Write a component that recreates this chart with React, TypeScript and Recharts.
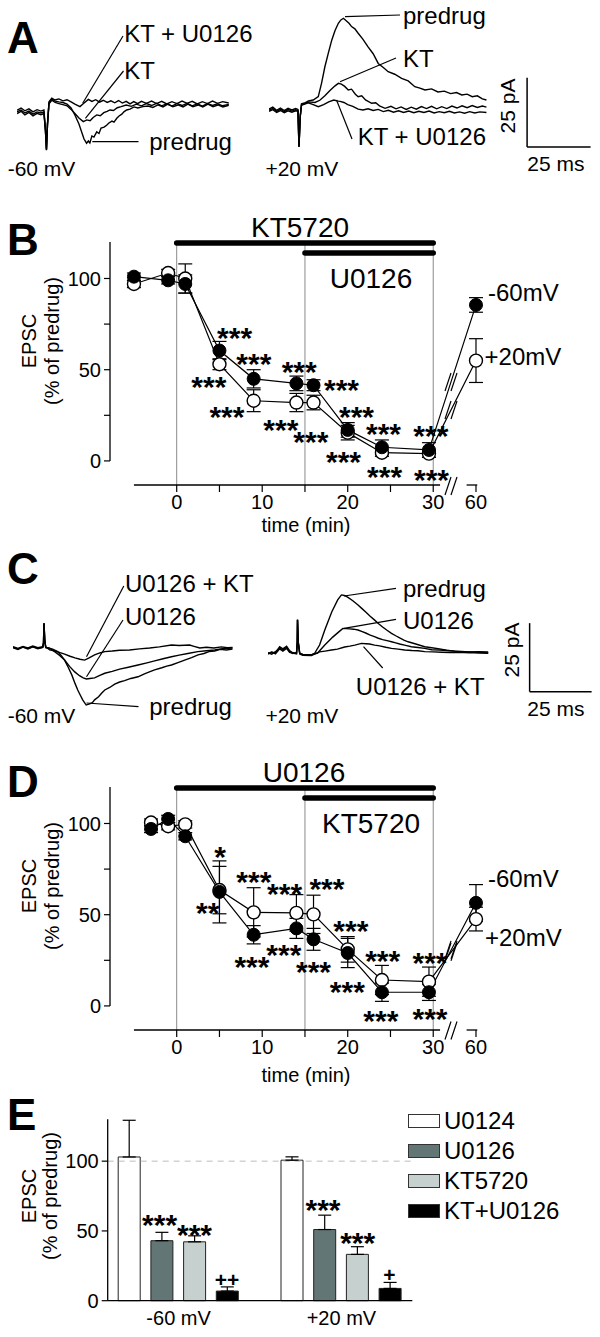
import React from 'react';
import {
  LineChart, Line, XAxis, YAxis, ReferenceLine, ErrorBar, BarChart, Bar, Legend,
} from 'recharts';

const FONT = '"Liberation Sans", Arial, Helvetica, sans-serif';

// ---------------- Panel A traces: [time (ms), current (pA)] ----------------
const aNeg60Predrug: [number, number][] = [[0,-1.4],[1.6,-0.7],[3.1,-1.8],[4.7,-1.1],[6.3,-2.2],[7.9,-1.4],[9.4,-1.8],[10.6,-1.4],[11.2,-8],[11.6,-15.2],[12.0,-6],[12.6,1.8],[13.7,3.2],[15,2.5],[16.5,2.2],[18.1,2.0],[19.7,1.4],[21.3,0],[22.8,-2.5],[24.4,-5.8],[25.6,-9],[26.4,-11.2],[27.4,-12.7],[28.1,-11.9],[28.7,-12.6],[29.5,-10.1],[30.3,-10.5],[31.4,-8.6],[32.3,-9.2],[33.1,-7.2],[34.3,-6.9],[35.3,-6.2],[36.2,-5.4],[37.4,-4.7],[38.2,-5.1],[39.3,-3.7],[40.2,-2.9],[41.3,-2.2],[42.1,-1.4],[43.2,-0.7],[44.5,-0.4],[46.1,0.4],[47.6,0],[49.6,0.5],[51.6,0.7],[53.5,0.2],[55.5,1.1],[57.5,0.4],[59.4,1.4],[61.4,0.5],[63.4,1.1],[65.4,0.4],[67.3,1.4],[69.3,0.5],[71.3,1.1],[73.2,0.4],[75.2,1.4],[77.2,0.5],[79.1,1.1],[81.1,0.4],[83.4,1.0]];
const aNeg60KT: [number, number][] = [[0,-2.0],[1.6,-1.2],[3.1,-2.5],[4.7,-1.6],[6.3,-2.8],[7.9,-1.9],[9.4,-2.4],[10.6,-2.0],[11.2,-8],[11.6,-15],[12.0,-6],[12.6,1.5],[13.7,2.8],[15,2.0],[16.5,1.6],[18.1,1.2],[19.7,0.8],[21.3,-0.5],[22.8,-2.0],[24.4,-3.6],[26.1,-4.9],[27.5,-4.3],[28.8,-4.6],[30,-3.4],[31.4,-2.5],[32.8,-2.8],[34.2,-1.7],[35.5,-1.2],[36.6,-0.7],[38,-0.9],[39.5,0.1],[41,0.5],[43,1.1],[45,0.6],[47,1.4],[49,0.8],[51,1.6],[53,0.9],[55,1.7],[57,0.8],[59,1.5],[61,0.7],[63,1.6],[65,0.9],[67,1.7],[69,0.8],[71,1.5],[73,0.7],[75,1.6],[77,0.9],[79,1.5],[81,0.8],[83.4,1.3]];
const aNeg60KTU: [number, number][] = [[0,-0.8],[1.6,0],[3.1,-1.0],[4.7,-0.3],[6.3,-1.4],[7.9,-0.6],[9.4,-1.1],[10.6,-0.7],[11.2,-8],[11.6,-15],[12.0,-6],[12.6,2.3],[13.7,3.6],[15,2.9],[16.5,3.3],[18.1,2.6],[19.7,3.0],[21.3,2.2],[22.8,1.4],[24.8,0.5],[26.2,1.6],[28.1,3.1],[29.5,2.4],[31,3.0],[32.5,2.1],[34,2.8],[35.5,2.0],[37,2.6],[38.5,1.9],[40,2.7],[41.5,1.8],[43,2.4],[44.5,1.5],[46,2.3],[47.5,1.6],[49,2.4],[51,1.7],[53,2.5],[55,1.6],[57,2.4],[59,1.5],[61,2.3],[63,1.6],[65,2.5],[67,1.7],[69,2.4],[71,1.5],[73,2.3],[75,1.6],[77,2.5],[79,1.7],[81,2.3],[83.4,1.8]];

const aPos20Predrug: [number, number][] = [[0,-0.8],[1.5,-0.2],[3,-1.2],[4.5,-0.4],[6,-1.3],[7.5,-0.5],[9,-1.1],[10.5,-0.6],[11.4,-0.9],[11.8,-14],[12.3,-3],[12.8,1.5],[14,1.8],[15.5,2.6],[17.4,2.9],[19.4,4.1],[20.7,9],[22,14.9],[23.4,20],[24.7,24.5],[26,28],[27.3,30.6],[28.3,31.8],[29.3,32.4],[30.5,31.4],[31.5,30.6],[32.5,29.4],[33.8,28.6],[35.1,27.0],[37,24.8],[39,22.1],[41,19.6],[43,16.1],[45,14.6],[46.9,13.1],[49.5,12.2],[52.2,10.7],[54.8,9.8],[57.4,7.7],[59.4,7.2],[61.4,6.5],[64,6.9],[66.5,5.8],[69,6.1],[71.5,5.2],[73.8,5.6],[75.9,4.7],[78,5.0],[80,4.1],[82,4.4],[84,3.3],[85.6,2.9]];
const aPos20KT: [number, number][] = [[0,-1.2],[1.5,-0.6],[3,-1.6],[4.5,-0.9],[6,-1.7],[7.5,-1.0],[9,-1.5],[10.5,-1.0],[11.4,-1.2],[11.8,-14],[12.3,-3],[12.8,1.2],[14,1.5],[15.5,2.2],[18.1,2.0],[20,2.8],[22,4.4],[24,6.3],[26,8.0],[27.3,8.9],[28.5,8.6],[29.8,7.8],[31.2,6.5],[32.5,6.8],[34,5.0],[35.1,4.1],[36.5,4.4],[38,2.9],[40.4,1.7],[42,1.9],[43.5,0.8],[45.7,-0.1],[48,0.6],[50,-0.3],[52,0.4],[54,-0.5],[56,0.3],[58,-0.4],[60,0.5],[62,-0.2],[64,0.6],[66,-0.3],[68,0.5],[70,-0.2],[72,0.7],[74,0],[76,0.8],[78,0.1],[80,0.9],[82,0.2],[84,0.7],[85.6,0.3]];
const aPos20KTU: [number, number][] = [[0,-0.4],[1.5,0.3],[3,-0.8],[4.5,0],[6,-0.9],[7.5,-0.1],[9,-0.7],[10.5,-0.2],[11.4,-0.5],[11.8,-14],[12.3,-3],[12.8,1.0],[14,1.4],[15.5,1.9],[17.4,1.2],[19.4,0.5],[21.5,1.2],[23.5,2.2],[25.5,2.9],[27.3,2.5],[28,2.4],[29.5,2.0],[31,1.2],[33,0.6],[35.1,-0.4],[37,-0.7],[39,-0.3],[41,-0.9],[43,-0.5],[45,-1.3],[47,-0.8],[49,-1.5],[51,-1.0],[53,-1.6],[55,-1.1],[57,-1.7],[59,-1.2],[61,-1.6],[63,-1.1],[65,-1.8],[67,-1.3],[69,-1.7],[71,-1.2],[73,-1.8],[75,-1.4],[77,-1.9],[79,-1.3],[81,-1.8],[83,-1.4],[85.6,-1.6]];

// ---------------- Panel C traces ----------------
const cNeg60Predrug: [number, number][] = [[0,0.2],[2,-0.4],[4,0.4],[6,-0.3],[8,0.5],[10,-0.2],[12,0.3],[12.3,2],[12.5,9.1],[12.8,3],[13.2,0.2],[14.5,0],[16,-0.3],[18,-1.2],[19.5,-2.7],[20.8,-4.3],[22.3,-7],[23.7,-9.7],[25,-12.8],[26.1,-15.2],[27.2,-17.2],[28.1,-18.8],[29.5,-20.7],[30.9,-20.3],[32,-19.8],[32.9,-18.8],[34.5,-17.7],[35.8,-16.3],[37,-15.2],[39,-14.3],[41,-13.1],[43,-12.3],[45,-11.8],[47.5,-11.0],[50.4,-10.4],[53,-9.3],[55,-8.6],[57.1,-7.9],[60,-7.1],[62,-6.5],[63.9,-6.1],[66.5,-5.2],[69.2,-4.3],[72,-3.4],[74.6,-2.4],[77,-1.9],[79,-1.2],[81.3,-1.0],[83.5,-0.4],[86,-0.6],[88.5,-0.3]];
const cNeg60U0126: [number, number][] = [[0,0.4],[2,-0.2],[4,0.5],[6,-0.1],[8,0.6],[10,0],[12,0.4],[12.3,2],[12.5,9.1],[12.8,3],[13.2,0.3],[14.5,0.1],[15.5,-0.4],[16.8,-1.2],[18.8,-2.6],[20.8,-4.3],[22.8,-6.6],[24.9,-8.6],[26.8,-10.0],[28.3,-10.8],[29.6,-11.2],[31,-11.0],[32.9,-10.8],[35,-9.9],[37,-9.1],[40,-8.4],[43,-7.6],[46.5,-6.9],[50.4,-6.1],[54,-5.3],[57.1,-4.6],[60.5,-3.8],[63.9,-3.1],[67,-2.5],[70.5,-1.9],[74.5,-1.2],[78,-0.9],[81.3,-0.6],[85,-0.1],[88.5,0.1]];
const cNeg60U0126KT: [number, number][] = [[0,0.6],[2,0],[4,0.7],[6,0.1],[8,0.8],[10,0.2],[12,0.6],[12.3,2],[12.5,9.1],[12.8,3],[13.2,0.5],[14.8,-0.6],[17,-1.0],[19,-1.6],[20.8,-2.1],[23,-2.9],[25,-3.5],[27,-4.0],[28.9,-4.3],[30.5,-3.6],[32.9,-2.4],[35,-1.7],[37,-1.2],[40,-1.0],[43,-0.7],[47,-0.6],[51,-0.2],[55.1,0.1],[59,0.5],[63.9,1.2],[67,1.0],[71.2,1.2],[73,0.7],[75.3,0.1],[78,0.4],[81,0.1],[84,0.5],[86.5,0.2],[88.5,0.3]];

const cPos20Predrug: [number, number][] = [[0,-0.3],[1.5,0.4],[3,0.1],[4.7,2.4],[6,1.6],[7.5,2.6],[8.7,1.0],[10,0.2],[11.5,0],[11.8,4],[11.9,12.2],[12.2,4],[12.8,0],[14,-0.4],[17.5,-0.6],[18.8,0],[20.8,3.0],[22.9,8.5],[25.7,15.1],[28.1,19.5],[29.6,21.3],[30.8,21.1],[32.1,20.5],[34.2,19.2],[36.3,17.6],[37.8,16.4],[39.4,15.1],[41.2,13.5],[42.9,12.2],[44.6,10.8],[46.2,9.6],[48,8.4],[49.8,7.3],[51.5,6.4],[53.1,5.6],[54.8,4.8],[56.5,4.2],[59.6,3.4],[63.2,2.4],[66,2.0],[69.2,1.6],[72,1.1],[75.3,0.8],[78,0.6],[81.3,0.5],[85,0.2],[88.8,0]];
const cPos20U0126: [number, number][] = [[0,0.2],[1.5,-0.3],[3,0.6],[4.7,2.0],[6,1.2],[7.5,2.2],[8.7,0.6],[10,-0.1],[11.5,0.2],[11.8,4],[11.9,12.2],[12.2,4],[12.8,0],[14,-0.4],[17.5,-0.5],[20,0.1],[22.9,3.0],[26.1,5.9],[28.9,8.1],[30.2,9.1],[31.5,9.0],[32.9,8.9],[34.5,8.8],[36.3,8.5],[38,7.9],[39.4,7.4],[41,6.7],[42.9,6.1],[44.5,5.5],[46.2,5.0],[48,4.6],[49.8,4.2],[51.5,3.8],[53.1,3.4],[55.5,2.9],[57.8,2.4],[60.5,2.1],[63.2,1.8],[66,1.3],[69.2,1.2],[72,1.0],[75.3,0.8],[78,0.7],[81,0.5],[85,0.6],[88.8,0.5]];
const cPos20U0126KT: [number, number][] = [[0,-0.1],[1.5,0.5],[3,-0.2],[4.7,1.6],[6,0.8],[7.5,1.8],[8.7,0.3],[10,0.1],[11.5,-0.2],[11.8,4],[11.9,12.2],[12.2,4],[12.8,-0.3],[14,-0.7],[17.5,-0.8],[20.8,0.5],[23,0.8],[25.6,1.2],[28,1.5],[30.9,2.3],[33,2.6],[35,3.0],[37.7,3.6],[39.5,3.5],[41,3.4],[43,3.0],[45,2.7],[47.5,2.2],[49.8,1.8],[52.5,1.5],[55.1,1.2],[58,1.0],[60.5,0.9],[63.2,0.6],[66.5,0.5],[70,0.4],[73.3,0.3],[77,0.4],[81,0.2],[85,0.3],[88.8,0.1]];

// ---------------- Panel B time course ----------------
const timesB = [-5, -1, 1, 5, 9, 14, 16, 20, 24, 29.5, 60];
const bNeg60 = [101, 99, 97, 60.5, 45, 42.5, 41.5, 17, 7.5, 6, 85.5];
const bNeg60Err = [2, 2, 5, 5, 5, 4, 3, 4, 4, 4, 4];
const bPos20 = [97, 103, 100, 53, 33, 32, 32, 15.5, 4.5, 4, 55];
const bPos20Err = [2, 2, 8, 3, 6, 5, 4, 4, 2, 2, 12];

// ---------------- Panel D time course ----------------
const timesD = [-3, -1, 1, 5, 9, 14, 16, 20, 24, 29.5, 60];
const dNeg60 = [97, 102.5, 93, 62.5, 39, 42.5, 36.5, 29, 7.5, 7.5, 56.5];
const dNeg60Err = [2, 2, 2, 17, 5, 5.5, 6, 8, 5, 4.5, 10];
const dPos20 = [100.5, 98.5, 99.5, 63.5, 51.3, 51, 50.2, 31, 14.2, 13.3, 47.6];
const dPos20Err = [2, 2, 2, 13, 13.5, 10, 10.5, 7, 8, 8, 6.5];

const timeTicks = [0, 5, 10, 15, 20, 25, 30, 60];

// ---------------- Panel E bars ----------------
const eGroups = ['-60 mV', '+20 mV'];
const eU0124 = [103, 100.7];
const eU0124Err = [26.3, 2.4];
const eU0126 = [43, 51];
const eU0126Err = [6, 10.3];
const eKT5720 = [42.2, 33.2];
const eKT5720Err = [4.3, 5.5];
const eKTU0126 = [6.9, 8.8];
const eKTU0126Err = [3, 4.3];
const eSeriesNames = ['U0124', 'U0126', 'KT5720', 'KT+U0126'];
const eSigLabels = [['', '***', '***', '++'], ['', '***', '***', '+']];

// ---------------- helpers ----------------
const toRows = (pts: [number, number][]) => pts.map(([t, v]) => ({ t, v }));
// broken time axis: 60 min is drawn just after the break
const axisPos = (t: number) => (t > 30 ? 35 : t);

// time-course chart geometry
const TC = { width: 600, height: 340, mTop: 42, mRight: 105.2, mBottom: 25, mLeft: 70, yAxisW: 40, xAxisH: 30,
  xMin: -7.8, xMax: 37.2, yMin: -13.2, yMax: 120 };
const tcLeft = TC.mLeft + TC.yAxisW;
const tcRight = TC.width - TC.mRight;
const tcPlotH = TC.height - TC.mTop - TC.mBottom - TC.xAxisH;
const pxX = (x: number) => tcLeft + ((x - TC.xMin) / (TC.xMax - TC.xMin)) * (tcRight - tcLeft);
const pxY = (top: number, v: number) => top + TC.mTop + ((TC.yMax - v) / (TC.yMax - TC.yMin)) * tcPlotH;

const blk = '#000';

function Trace({ left, top, width, height, xMax, yDom, traces, scaleBar }: any) {
  return (
    <div style={{ position: 'absolute', left, top }}>
      <LineChart width={width} height={height} margin={{ top: 0, right: 0, bottom: 0, left: 0 }}>
        <XAxis type="number" dataKey="t" domain={[0, xMax]} hide allowDataOverflow />
        <YAxis type="number" domain={yDom} hide allowDataOverflow />
        {traces.map((tr: [number, number][], i: number) => (
          <Line key={i} data={toRows(tr)} dataKey="v" type="linear" stroke={blk} strokeWidth={1.4}
            dot={false} isAnimationActive={false} />
        ))}
        {scaleBar && (
          <ReferenceLine segment={[{ x: scaleBar.t, y: scaleBar.v + 25 }, { x: scaleBar.t, y: scaleBar.v }]}
            stroke={blk} strokeWidth={1.5} ifOverflow="visible" />
        )}
        {scaleBar && (
          <ReferenceLine segment={[{ x: scaleBar.t, y: scaleBar.v }, { x: scaleBar.t + 25, y: scaleBar.v }]}
            stroke={blk} strokeWidth={1.5} ifOverflow="visible" />
        )}
      </LineChart>
    </div>
  );
}

function TimeCourse({ top, times, neg, negErr, pos, posErr }: any) {
  const rows = times.map((t: number, i: number) => ({
    x: axisPos(t), m60: neg[i], m60Err: negErr[i], p20: pos[i], p20Err: posErr[i],
  }));
  const fmt = (v: number) => {
    const lab = timeTicks.find((t) => axisPos(t) === v);
    return lab !== undefined && lab % 10 === 0 ? String(lab) : '';
  };
  return (
    <div style={{ position: 'absolute', left: 0, top }}>
      <LineChart width={TC.width} height={TC.height} data={rows}
        margin={{ top: TC.mTop, right: TC.mRight, bottom: TC.mBottom, left: TC.mLeft }}>
        <XAxis type="number" dataKey="x" domain={[TC.xMin, TC.xMax]} ticks={timeTicks.map(axisPos)}
          tickFormatter={fmt} interval={0} axisLine={false} tickLine={{ stroke: blk, strokeWidth: 1.2 }}
          tick={{ fill: blk, fontSize: 20 }} tickSize={7} tickMargin={3} height={TC.xAxisH} allowDataOverflow />
        <YAxis type="number" domain={[TC.yMin, TC.yMax]} ticks={[0, 25, 50, 75, 100]}
          tickFormatter={(v: number) => (v % 50 === 0 ? String(v) : '')} interval={0} axisLine={false}
          tickLine={{ stroke: blk, strokeWidth: 1.2 }} tick={{ fill: blk, fontSize: 20 }} tickSize={6}
          tickMargin={3} width={TC.yAxisW} allowDataOverflow />
        <ReferenceLine x={0} stroke="#8a8a8a" strokeWidth={1} />
        <ReferenceLine x={15} stroke="#8a8a8a" strokeWidth={1} />
        <ReferenceLine x={30} stroke="#8a8a8a" strokeWidth={1} />
        <ReferenceLine segment={[{ x: TC.xMin, y: 0 }, { x: TC.xMin, y: TC.yMax }]} stroke={blk} strokeWidth={1.3} />
        <ReferenceLine segment={[{ x: -5, y: TC.yMin }, { x: 30.8, y: TC.yMin }]} stroke={blk} strokeWidth={1.3} />
        <ReferenceLine segment={[{ x: 33.9, y: TC.yMin }, { x: 35.15, y: TC.yMin }]} stroke={blk} strokeWidth={1.3} />
        <ReferenceLine segment={[{ x: 0, y: 119.4 }, { x: 30, y: 119.4 }]} stroke={blk} strokeWidth={5.5} strokeLinecap="round" />
        <ReferenceLine segment={[{ x: 15, y: 114 }, { x: 30, y: 114 }]} stroke={blk} strokeWidth={5.5} strokeLinecap="round" />
        <Line dataKey="p20" type="linear" stroke={blk} strokeWidth={1.2} isAnimationActive={false}
          dot={{ r: 6.5, fill: '#fff', stroke: blk, strokeWidth: 1.4 }}>
          <ErrorBar dataKey="p20Err" width={7} stroke={blk} strokeWidth={1.2} direction="y" />
        </Line>
        <Line dataKey="m60" type="linear" stroke={blk} strokeWidth={1.2} isAnimationActive={false}
          dot={{ r: 6.5, fill: blk, stroke: blk, strokeWidth: 1 }}>
          <ErrorBar dataKey="m60Err" width={7} stroke={blk} strokeWidth={1.2} direction="y" />
        </Line>
      </LineChart>
    </div>
  );
}

// Overlay helpers
const T = ({ x, y, s = 22, a = 'start', w = 'normal', children }: any) => (
  <text x={x} y={y} fontSize={s} textAnchor={a} fontWeight={w} fill={blk} fontFamily={FONT}>{children}</text>
);
const L = ({ x1, y1, x2, y2, w = 1.2 }: any) => (
  <line x1={x1} y1={y1} x2={x2} y2={y2} stroke={blk} strokeWidth={w} />
);
const Stars = ({ list, s = 30 }: any) => (
  <>
    {list.map(([x, y, txt]: any, i: number) => (
      <text key={i} x={x} y={y + s * 0.55} fontSize={s} fontWeight="bold" textAnchor="middle" fill={blk}
        fontFamily={FONT}>{txt}</text>
    ))}
  </>
);
const BreakMark = ({ cx, cy }: any) => (
  <>
    <line x1={cx - 6} y1={cy + 9} x2={cx} y2={cy - 9} stroke={blk} strokeWidth={1.2} />
    <line x1={cx} y1={cy + 9} x2={cx + 6} y2={cy - 9} stroke={blk} strokeWidth={1.2} />
  </>
);
const RotLabel = ({ cx, cy }: any) => (
  <>
    <text x={28.8} y={cy} fontSize={20} textAnchor="middle" dominantBaseline="central" fontFamily={FONT}
      transform={`rotate(-90 28.8 ${cy})`}>EPSC</text>
    <text x={cx} y={cy} fontSize={20} textAnchor="middle" dominantBaseline="central" fontFamily={FONT}
      transform={`rotate(-90 ${cx} ${cy})`}>(% of predrug)</text>
  </>
);

const starsB = [
  [234.6, 331.7, '***'], [253.8, 357.3, '***'], [208.8, 380.7, '***'], [226.9, 410, '***'],
  [299.2, 365.7, '***'], [280.8, 423.3, '***'], [341.5, 383.3, '***'], [310.8, 435, '***'],
  [356.5, 410.7, '***'], [343.5, 455, '***'], [383.5, 427.7, '***'], [384.6, 470, '***'],
  [430.8, 429.3, '***'], [431.5, 473.3, '***'],
];
const starsD = [
  [220, 850, '*'], [207.7, 906.7, '**'], [253.8, 875, '***'], [284.6, 887.3, '***'],
  [326.9, 882.7, '***'], [251.9, 960, '***'], [283.8, 948.3, '***'], [313.5, 965, '***'],
  [350.8, 924, '***'], [347.3, 985, '***'], [382.7, 954, '***'], [380.8, 1014, '***'],
  [430, 956.7, '***'], [430, 1012.7, '***'],
];
const starsE = [
  [159.6, 1218.3, eSigLabels[0][1]], [194.5, 1228.3, eSigLabels[0][2]],
  [323, 1203, eSigLabels[1][1]], [357.7, 1236.7, eSigLabels[1][2]],
];
const plusE = [[227, 1280, eSigLabels[0][3]], [389.5, 1275, eSigLabels[1][3]]];

const TOP_B = 200;
const TOP_D = 744.5;

function lineBreaks(top: number, times: number[], series: number[]) {
  const n = times.length;
  const x1 = pxX(axisPos(times[n - 2])), y1 = pxY(top, series[n - 2]);
  const x2 = pxX(axisPos(times[n - 1])), y2 = pxY(top, series[n - 1]);
  const cx = 451;
  const cy = y1 + ((cx - x1) / (x2 - x1)) * (y2 - y1);
  return <BreakMark cx={cx} cy={cy} />;
}

const eFills = ['#ffffff', '#627676', '#c6d0cf', '#000000'];

function Legendary() {
  return (
    <div style={{ fontFamily: FONT, fontSize: 24, color: blk }}>
      {eSeriesNames.map((n, i) => (
        <div key={n} style={{ display: 'flex', alignItems: 'center', height: 30 }}>
          <span style={{ display: 'inline-block', width: 30, height: 12, background: eFills[i],
            border: '1px solid #333', marginRight: 4 }} />
          <span>{n}</span>
        </div>
      ))}
    </div>
  );
}

export default function App() {
  const eRows = eGroups.map((g, i) => ({
    g,
    u0124: eU0124[i], u0124Err: [0, eU0124Err[i]],
    u0126: eU0126[i], u0126Err: [0, eU0126Err[i]],
    kt: eKT5720[i], ktErr: [0, eKT5720Err[i]],
    ktu: eKTU0126[i], ktuErr: [0, eKTU0126Err[i]],
  }));
  const eKeys = ['u0124', 'u0126', 'kt', 'ktu'];

  return (
    <div style={{ position: 'absolute', left: 0, top: 0, width: 600, height: 1337, background: '#fff',
      fontFamily: FONT, overflow: 'hidden' }}>
      {/* Panel A */}
      <Trace left={17} top={0} width={212} height={190} xMax={83.5} yDom={[-29.6, 39.0]}
        traces={[aNeg60Predrug, aNeg60KT, aNeg60KTU]} />
      <Trace left={269} top={0} width={331} height={190} xMax={130.3} yDom={[-29.6, 39.0]}
        traces={[aPos20Predrug, aPos20KT, aPos20KTU]} scaleBar={{ t: 101.6, v: -14.1 }} />

      {/* Panel B */}
      <TimeCourse top={TOP_B} times={timesB} neg={bNeg60} negErr={bNeg60Err} pos={bPos20} posErr={bPos20Err} />

      {/* Panel C */}
      <Trace left={13.3} top={560} width={220} height={170} xMax={88.7} yDom={[-29.8, 32.2]}
        traces={[cNeg60Predrug, cNeg60U0126, cNeg60U0126KT]} />
      <Trace left={268.3} top={560} width={331.7} height={170} xMax={133.75} yDom={[-28.0, 34.05]}
        traces={[cPos20Predrug, cPos20U0126, cPos20U0126KT]} scaleBar={{ t: 105.5, v: -14.0 }} />

      {/* Panel D */}
      <TimeCourse top={TOP_D} times={timesD} neg={dNeg60} negErr={dNeg60Err} pos={dPos20} posErr={dPos20Err} />

      {/* Panel E */}
      <div style={{ position: 'absolute', left: 0, top: 1090 }}>
        <BarChart width={600} height={247} data={eRows} barGap={10.7} barSize={22}
          margin={{ top: 29.3, right: 187.7, bottom: 6.3, left: 67.7 }}>
          <XAxis dataKey="g" type="category" padding={{ left: -10.5, right: -10.5 }} tickLine={false}
            axisLine={{ stroke: blk, strokeWidth: 1.3 }} tick={{ fill: blk, fontSize: 20 }} tickMargin={4} height={30} />
          <YAxis type="number" domain={[0, 130]} ticks={[0, 50, 100]} interval={0}
            axisLine={{ stroke: blk, strokeWidth: 1.3 }} tickLine={{ stroke: blk, strokeWidth: 1.2 }}
            tick={{ fill: blk, fontSize: 20 }} tickSize={6} tickMargin={3} width={40} />
          <ReferenceLine y={100} stroke="#bdbdbd" strokeDasharray="6 5" strokeWidth={1} />
          <Legend layout="vertical" align="center" verticalAlign="middle" content={() => <Legendary />}
            wrapperStyle={{ left: 408, top: 16, width: 190 }} />
          {eKeys.map((k, i) => (
            <Bar key={k} dataKey={k} name={eSeriesNames[i]} fill={eFills[i]} stroke="#222" strokeWidth={1}
              isAnimationActive={false}>
              <ErrorBar dataKey={`${k}Err`} width={6.5} stroke={blk} strokeWidth={1.2} direction="y" />
            </Bar>
          ))}
        </BarChart>
      </div>

      {/* Annotations */}
      <svg width={600} height={1337} style={{ position: 'absolute', left: 0, top: 0, pointerEvents: 'none' }}>
        {/* panel letters */}
        <T x={7} y={53} s={44} w="bold">A</T>
        <T x={7} y={255} s={44} w="bold">B</T>
        <T x={7} y={584} s={44} w="bold">C</T>
        <T x={7} y={797} s={44} w="bold">D</T>
        <T x={7} y={1130} s={44} w="bold">E</T>

        {/* A annotations */}
        <T x={124.2} y={42} s={24}>KT + U0126</T>
        <L x1={123} y1={36} x2={82.7} y2={103.3} />
        <T x={124.2} y={78.6} s={24}>KT</T>
        <L x1={123.5} y1={71} x2={85.4} y2={118.3} />
        <T x={149.2} y={150.3} s={24}>predrug</T>
        <L x1={138.5} y1={141.7} x2={92.3} y2={141.7} />
        <T x={403} y={23.6} s={24}>predrug</T>
        <L x1={400} y1={15} x2={345} y2={16.7} />
        <T x={403} y={66.6} s={24}>KT</T>
        <L x1={396} y1={58} x2={340} y2={81.7} />
        <T x={357.7} y={145.3} s={24}>KT + U0126</T>
        <L x1={352} y1={139} x2={336.5} y2={100} />
        <T x={7.7} y={175.8} s={21}>-60 mV</T>
        <T x={265.4} y={175.8} s={21}>+20 mV</T>
        <T x={555.8} y={170.8} s={21} a="middle">25 ms</T>
        <text x={507.7} y={106} fontSize={21} textAnchor="middle" dominantBaseline="central" fontFamily={FONT}
          transform="rotate(-90 507.7 106)">25 pA</text>

        {/* B annotations */}
        <T x={300} y={237} s={28} a="middle">KT5720</T>
        <T x={371} y={288} s={28} a="middle">U0126</T>
        <T x={488} y={300.6} s={24}>-60mV</T>
        <T x={484.6} y={364.6} s={24}>+20mV</T>
        <T x={306} y={532} s={20} a="middle">time (min)</T>
        <RotLabel cx={52} cy={341} />
        <Stars list={starsB} />
        <BreakMark cx={451} cy={TOP_B + TC.height - TC.mBottom - TC.xAxisH + 1} />
        {lineBreaks(TOP_B, timesB, bNeg60)}
        {lineBreaks(TOP_B, timesB, bPos20)}

        {/* C annotations */}
        <T x={125} y={592} s={24}>U0126 + KT</T>
        <L x1={123.8} y1={586} x2={86.5} y2={656.7} />
        <T x={125} y={625.3} s={24}>U0126</T>
        <L x1={123} y1={620} x2={86.5} y2={676.7} />
        <T x={149.2} y={715.3} s={24}>predrug</T>
        <L x1={138.5} y1={706.7} x2={86.5} y2={703} />
        <T x={403} y={597} s={24}>predrug</T>
        <L x1={396} y1={588.3} x2={344} y2={596} />
        <T x={403} y={628.6} s={24}>U0126</T>
        <L x1={396} y1={619.3} x2={344} y2={628.3} />
        <T x={355.8} y={695.3} s={24}>U0126 + KT</T>
        <L x1={382.7} y1={668} x2={363.5} y2={646.7} />
        <T x={7.7} y={722.5} s={21}>-60 mV</T>
        <T x={265.4} y={722.5} s={21}>+20 mV</T>
        <T x={555.8} y={715.8} s={21} a="middle">25 ms</T>
        <text x={511.5} y={650} fontSize={21} textAnchor="middle" dominantBaseline="central" fontFamily={FONT}
          transform="rotate(-90 511.5 650)">25 pA</text>

        {/* D annotations */}
        <T x={304} y={781.7} s={28} a="middle">U0126</T>
        <T x={371} y={833} s={28} a="middle">KT5720</T>
        <T x={488} y={886.6} s={24}>-60mV</T>
        <T x={485} y={945.6} s={24}>+20mV</T>
        <T x={306} y={1082} s={20} a="middle">time (min)</T>
        <RotLabel cx={52} cy={886} />
        <Stars list={starsD} />
        <BreakMark cx={451} cy={TOP_D + TC.height - TC.mBottom - TC.xAxisH + 1} />
        {lineBreaks(TOP_D, timesD, dNeg60)}
        {lineBreaks(TOP_D, timesD, dPos20)}

        {/* E annotations */}
        <RotLabel cx={50} cy={1196} />
        <Stars list={starsE} />
        {plusE.map(([x, y, t]: any, i) => (
          <text key={i} x={x} y={y + 7} fontSize={21} fontWeight="bold" textAnchor="middle" fontFamily={FONT}>{t}</text>
        ))}
      </svg>
    </div>
  );
}
